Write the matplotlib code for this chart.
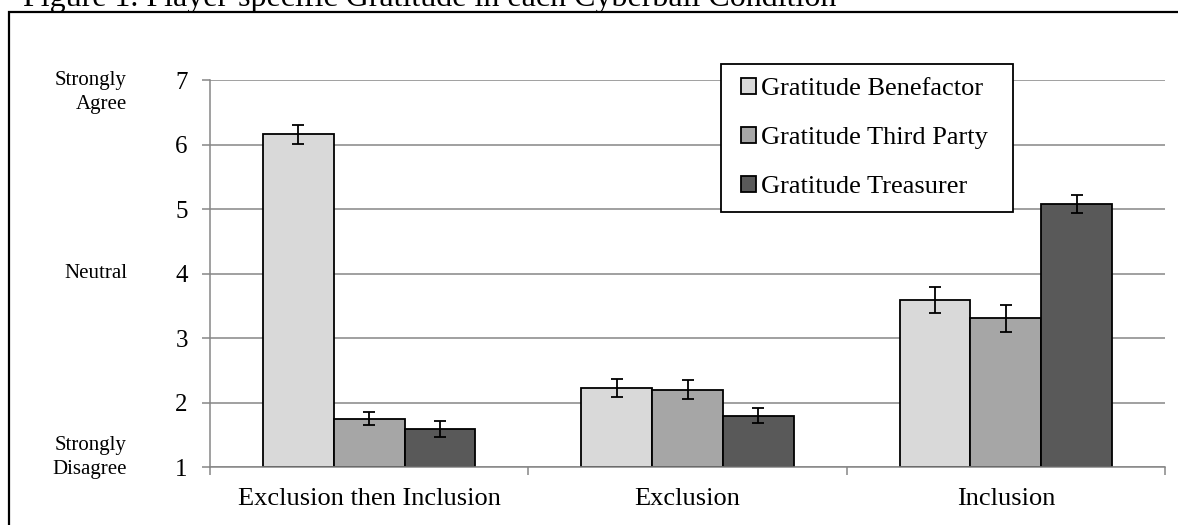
import numpy as np
import matplotlib
matplotlib.use("Agg")
import matplotlib.pyplot as plt
from matplotlib.patches import Rectangle

plt.rcParams["font.family"] = ["Liberation Serif", "DejaVu Serif"]

conditions = ["Exclusion then Inclusion", "Exclusion", "Inclusion"]
series_names = ["Gratitude Benefactor", "Gratitude Third Party", "Gratitude Treasurer"]
benefactor = [6.16, 2.23, 3.59]
third_party = [1.75, 2.20, 3.31]
treasurer = [1.59, 1.80, 5.08]
err_benefactor = [0.15, 0.145, 0.205]
err_third_party = [0.10, 0.145, 0.21]
err_treasurer = [0.125, 0.115, 0.14]
colors = ["#d9d9d9", "#a6a6a6", "#595959"]
y_ticks = [1, 2, 3, 4, 5, 6, 7]
scale_labels = {6.8: "Strongly\nAgree", 4: "Neutral", 1.15: "Strongly\nDisagree"}

W, H = 1178, 525
fig = plt.figure(figsize=(W / 100, H / 100), dpi=100)
ax = fig.add_axes([210 / W, 1 - 467.3 / H, (1165 - 210) / W, (467.3 - 80) / H])

grey = "#868686"
bar_w = 0.2225
centers = np.arange(len(conditions)) + 0.5
values = [benefactor, third_party, treasurer]
errors = [err_benefactor, err_third_party, err_treasurer]

bars = []
for i, (vals, errs) in enumerate(zip(values, errors)):
    x = centers + (i - 1) * bar_w
    b = ax.bar(x, np.array(vals) - 1, bottom=1, width=bar_w, color=colors[i],
               edgecolor="black", linewidth=1.3, label=series_names[i], zorder=2)
    bars.append(b)
    ax.errorbar(x, vals, yerr=errs, fmt="none", ecolor="black", elinewidth=1.3,
                capsize=4.5, capthick=1.3, zorder=3)

ax.set_xlim(0, 3)
ax.set_ylim(1, 7)
ax.set_yticks(y_ticks)
ax.yaxis.grid(True, color=grey, linewidth=1.1)
ax.set_axisbelow(True)
for side in ["top", "right"]:
    ax.spines[side].set_visible(False)
for side in ["left", "bottom"]:
    ax.spines[side].set_color(grey)
    ax.spines[side].set_linewidth(1.1)

ax.tick_params(axis="y", direction="out", length=6, width=1.1, color=grey,
               labelsize=18, pad=10)
ax.set_xticks([0, 1, 2, 3])
ax.set_xticklabels([])
ax.tick_params(axis="x", which="major", direction="out", length=6, width=1.1, color=grey)
ax.set_xticks(centers, minor=True)
ax.set_xticklabels(conditions, minor=True)
ax.tick_params(axis="x", which="minor", length=0, labelsize=19, pad=15)

for yv, txt in scale_labels.items():
    ax.text(-83 / 318.3, yv, txt, ha="right", va="center", fontsize=15,
            linespacing=1.35)

# legend box drawn by hand so the padding matches the reference
legend_box = Rectangle((721 / W, 1 - 212 / H), (1013 - 721) / W, 148 / H,
                       transform=fig.transFigure, facecolor="white", edgecolor="black",
                       linewidth=1.3, zorder=4, clip_on=False)
ax.add_artist(legend_box)
leg = ax.legend(handles=bars, loc="center left", bbox_to_anchor=(741 / W, 1 - 138 / H),
                bbox_transform=fig.transFigure, borderaxespad=0, fontsize=19,
                frameon=False, handlelength=0.55, handleheight=0.55,
                handletextpad=0.22, labelspacing=1.02, borderpad=0)
leg.set_zorder(5)

fig.text(23 / W, 1 - 6 / H, "Figure 1. Player-specific Gratitude in each Cyberball Condition",
         fontsize=23, ha="left", va="baseline")
fig.patches.append(Rectangle((9 / W, -0.1), 1.2, 1.1 - 12 / H, transform=fig.transFigure,
                             fill=False, edgecolor="black", linewidth=1.6))

fig.savefig("out.png", dpi=100)
